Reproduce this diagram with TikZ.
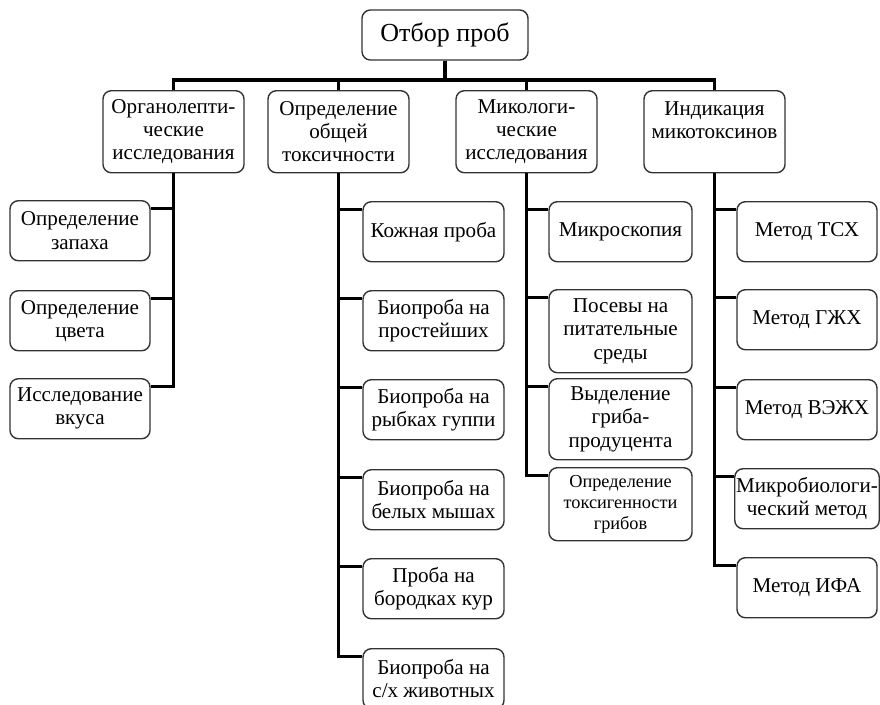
\documentclass[tikz,border=0pt]{standalone}
\usepackage{fontspec}
\setmainfont{Liberation Serif}
\usetikzlibrary{calc}

\tikzset{
    box/.style={draw=black!80, line width=1pt, rounded corners=6pt,
        align=center, inner sep=1pt, anchor=north,
        font=\fontsize{15}{16.5}\selectfont},
    headbox/.style={box, minimum width=3.525cm, minimum height=2.05cm},
    leafbox/.style={box, minimum width=3.5cm, minimum height=1.5cm},
    conn/.style={line width=2.8pt},
}

\begin{document}
\begin{tikzpicture}[x=0.025cm, y=-0.025cm]
    \useasboundingbox (0,0) rectangle (880,704);

    \node[box, anchor=center, minimum width=4.15cm, minimum height=1.25cm,
        font=\fontsize{18.5}{20}\selectfont] (otbor) at (445,35) {Отбор проб};

    \node[headbox] (org) at (173.5,90) {Органолепти-\\ческие\\исследования};
    \node[headbox] (tox) at (338.5,90) {Определение\\общей\\токсичности};
    \node[headbox] (mik) at (526.5,90) {Микологи-\\ческие\\исследования};
    \node[headbox] (ind) at (714.5,90) {Индикация\\микотоксинов\\\mbox{}};

    \coordinate (bar) at (445,80);
    \foreach \n in {org,tox,mik,ind}
        \draw[conn] (otbor.south) |- (bar -| \n.north) -- (\n.north);

    % органолептика
    \node[leafbox] (zapah) at (80,200) {Определение\\запаха};
    \node[leafbox] (cvet) at (80,290) {Определение\\цвета};
    \node[leafbox] (vkus) at (80,378) {Исследование\\вкуса};

    % токсичность
    \node[leafbox, minimum width=3.525cm] (kozh) at (433.5,201) {Кожная проба};
    \node[leafbox, minimum width=3.525cm] (prost) at (433.5,290) {Биопроба на\\простейших};
    \node[leafbox, minimum width=3.525cm] (guppi) at (433.5,379) {Биопроба на\\рыбках гуппи};
    \node[leafbox, minimum width=3.525cm] (mysh) at (433.5,469) {Биопроба на\\белых мышах};
    \node[leafbox, minimum width=3.525cm] (kur) at (433.5,558) {Проба на\\бородках кур};
    \node[leafbox, minimum width=3.525cm] (zhiv) at (433.5,648) {Биопроба на\\с/х животных};

    % микология
    \node[leafbox, minimum width=3.575cm] (mikro) at (620.5,201) {Микроскопия};
    \node[leafbox, minimum width=3.575cm, minimum height=2.075cm] (posev) at (620.5,289)
        {Посевы на\\питательные\\среды};
    \node[leafbox, minimum width=3.575cm, minimum height=2.025cm] (vydel) at (620.5,378)
        {Выделение\\гриба-\\продуцента};
    \node[leafbox, minimum width=3.575cm, minimum height=1.825cm,
        font=\fontsize{13}{15}\selectfont] (toksig) at (620.5,467)
        {Определение\\токсигенности\\грибов};

    % микотоксины
    \node[leafbox] (tsx) at (807,201) {Метод ТСХ};
    \node[leafbox] (gzhx) at (807,289) {Метод ГЖХ};
    \node[leafbox] (vezhx) at (807,379) {Метод ВЭЖХ};
    \node[leafbox] (mbio) at (807,468) {Микробиологи-\\ческий метод};
    \node[leafbox] (ifa) at (807,557) {Метод ИФА};

    \foreach \c in {zapah,cvet,vkus}
        \draw[conn] (org.south) |- ($(\c.north east)+(0,8.5)$);
    \foreach \p/\c in {tox/kozh,tox/prost,tox/guppi,tox/mysh,tox/kur,tox/zhiv,
        mik/mikro,mik/posev,mik/vydel,mik/toksig,
        ind/tsx,ind/gzhx,ind/vezhx,ind/mbio,ind/ifa}
        \draw[conn] (\p.south) |- ($(\c.north west)+(0,8.5)$);
\end{tikzpicture}
\end{document}
